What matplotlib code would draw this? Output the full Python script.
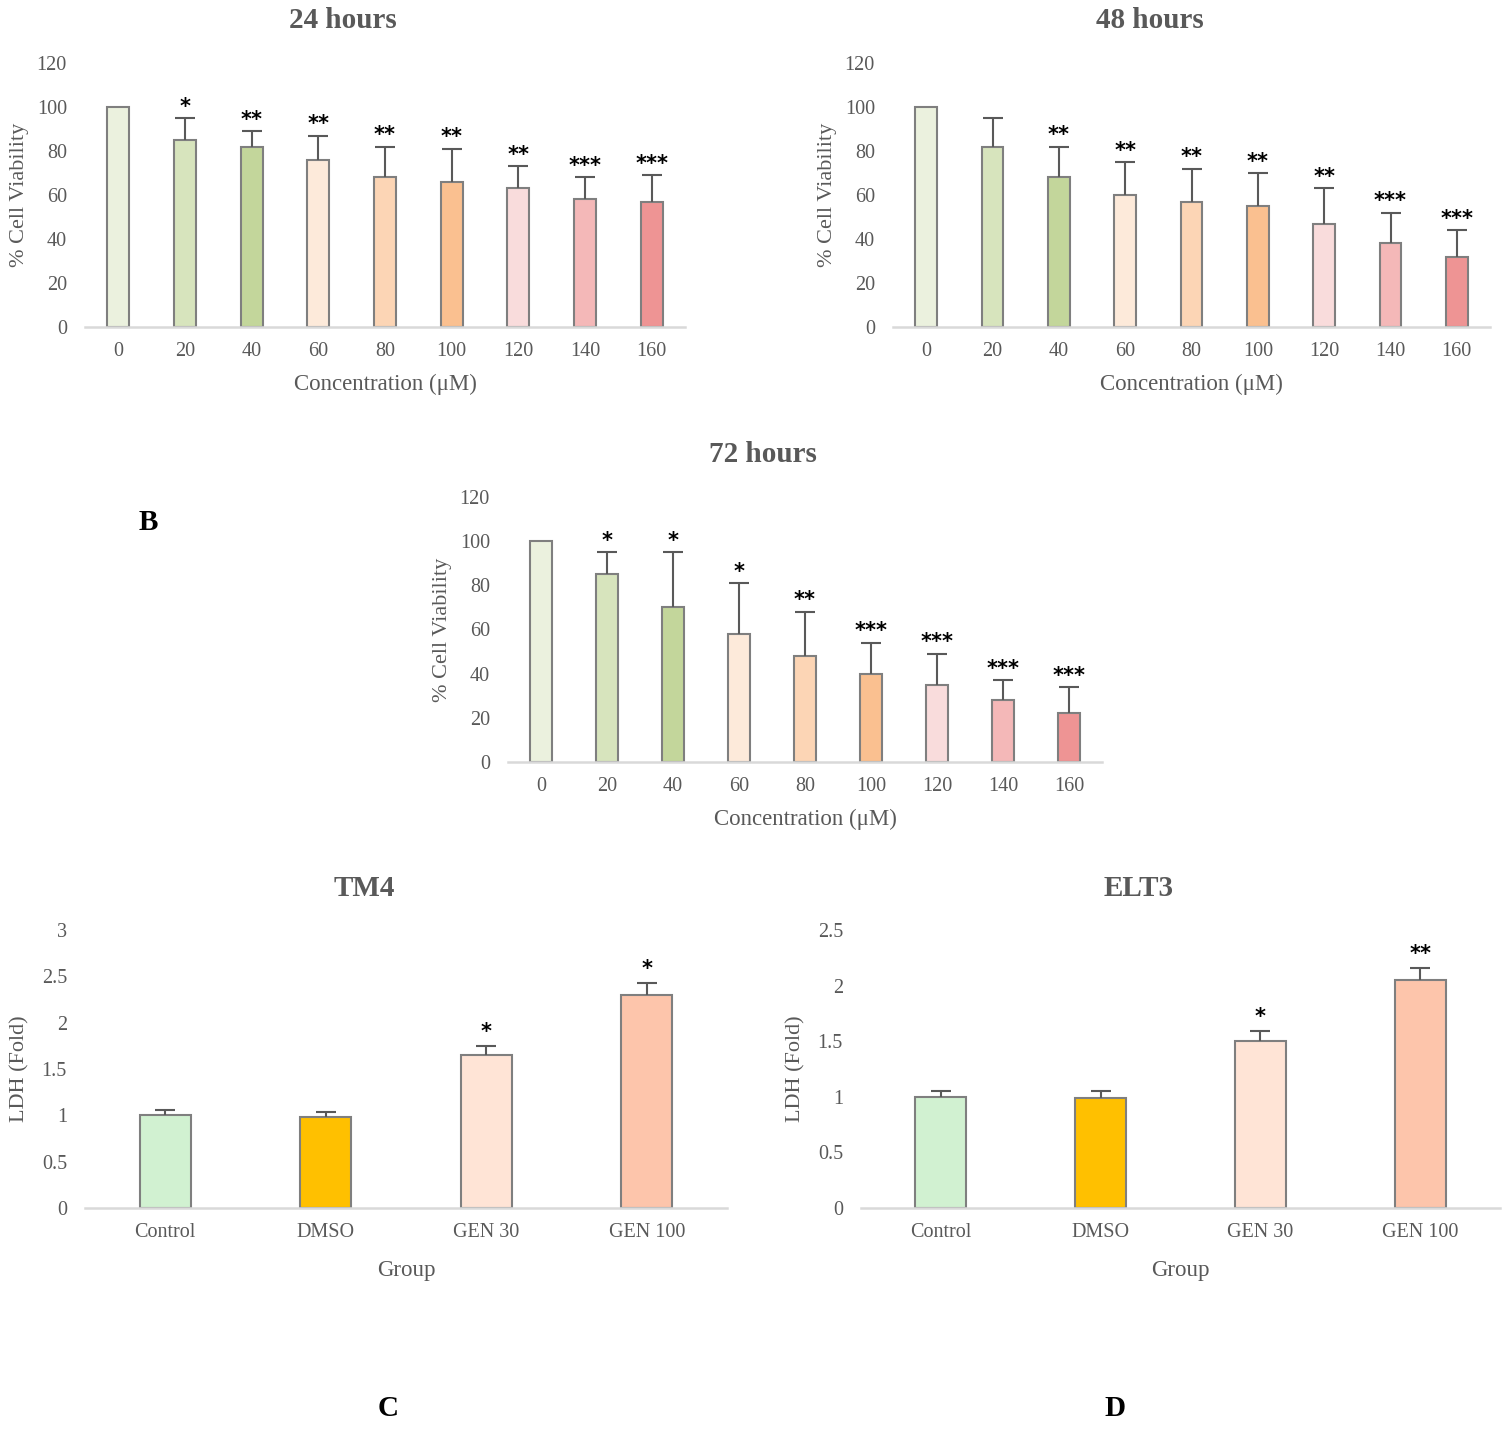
import numpy as np
import matplotlib
matplotlib.use("Agg")
import matplotlib.pyplot as plt

plt.rcParams['font.family'] = ['Liberation Serif', 'DejaVu Serif']

# Cell viability data (% of control)
conc_labels = ["0", "20", "40", "60", "80", "100", "120", "140", "160"]
via_24 = [100, 85, 82, 76, 68, 66, 63, 58, 57]
err_24 = [0, 10, 7, 11, 14, 15, 10, 10, 12]
sig_24 = ["", "*", "**", "**", "**", "**", "**", "***", "***"]

via_48 = [100, 82, 68, 60, 57, 55, 47, 38, 32]
err_48 = [0, 13, 14, 15, 15, 15, 16, 14, 12]
sig_48 = ["", "", "**", "**", "**", "**", "**", "***", "***"]

via_72 = [100, 85, 70, 58, 48, 40, 35, 28, 22]
err_72 = [0, 10, 25, 23, 20, 14, 14, 9, 12]
sig_72 = ["", "*", "*", "*", "**", "***", "***", "***", "***"]

via_colors = ["#EBF1DE", "#D7E4BD", "#C3D69B", "#FDEADA", "#FCD5B5",
              "#FAC090", "#F9DCDC", "#F4B8B8", "#EE9494"]

# LDH release data (fold of control)
groups = ["Control", "DMSO", "GEN 30", "GEN 100"]
ldh_tm4 = [1.0, 0.98, 1.65, 2.3]
ldh_tm4_err = [0.06, 0.06, 0.10, 0.13]
sig_tm4 = ["", "", "*", "*"]

ldh_elt3 = [1.0, 0.99, 1.5, 2.05]
ldh_elt3_err = [0.05, 0.06, 0.09, 0.11]
sig_elt3 = ["", "", "*", "**"]

ldh_colors = ["#D1F1D1", "#FFC000", "#FFE4D6", "#FDC5AB"]

W, H = 1509, 1430
fig = plt.figure(figsize=(W / 100, H / 100), dpi=100)

GRAY = "#595959"


def make_axes(box):
    # pixel box (left, right, top, bottom) -> figure fraction
    left, right, top, bottom = box
    return fig.add_axes([left / W, 1 - bottom / H, (right - left) / W, (bottom - top) / H])


def bar_panel(box, labels, vals, errs, sigs, colors, ymax, ystep, width,
              title, xlabel, ylabel, star_off, xlab_off):
    ax = make_axes(box)
    l, r, t, b = box
    w, h = r - l, b - t
    x = np.arange(len(vals))
    vals = np.array(vals, dtype=float)
    errs = np.array(errs, dtype=float)
    ax.bar(x, vals, width=width, color=colors, edgecolor="#7F7F7F",
           linewidth=1.5, zorder=2)
    m = errs > 0
    eb = ax.errorbar(x[m], vals[m], yerr=[np.zeros(m.sum()), errs[m]],
                     fmt="none", ecolor=GRAY, elinewidth=1.5, capsize=7,
                     capthick=1.5, zorder=3)
    eb[1][0].set_visible(False)
    for xi, v, e, s in zip(x, vals, errs, sigs):
        if s:
            ax.annotate(s, (xi, v + e), xytext=(0, star_off), textcoords="offset points",
                        ha="center", va="bottom", fontsize=15, fontweight="bold",
                        color="black", family="DejaVu Sans")
    ax.set_xlim(-0.5, len(vals) - 0.5)
    ax.set_ylim(0, ymax)
    ax.set_yticks(np.arange(0, ymax + ystep / 2, ystep))
    ax.yaxis.set_major_formatter(matplotlib.ticker.FuncFormatter(lambda v, p: f"{v:g}"))
    ax.set_xticks(x)
    ax.set_xticklabels(labels)
    for sp in ["left", "right", "top"]:
        ax.spines[sp].set_visible(False)
    ax.spines["bottom"].set_color("#D9D9D9")
    ax.spines["bottom"].set_linewidth(1.8)
    ax.tick_params(length=0, labelsize=14.5, colors=GRAY)
    ax.tick_params(axis="x", pad=11)
    ax.tick_params(axis="y", pad=13)
    ax.set_xlabel(xlabel, fontsize=16.5, color=GRAY)
    ax.set_ylabel(ylabel, fontsize=16, color=GRAY)
    ax.xaxis.set_label_coords(0.5, -xlab_off / h)
    ax.yaxis.set_label_coords(-56 / w, 0.5)
    ax.text(0.5 - 42 / w, 1 + 42 / h, title, transform=ax.transAxes, ha="center",
            va="center", fontsize=21, fontweight="bold", color=GRAY)
    return ax


via_w = 0.33
conc_title = "Concentration (\u03bcM)"
bar_panel((85, 685, 63, 327), conc_labels, via_24, err_24, sig_24, via_colors,
          120, 20, via_w, "24 hours", conc_title, "% Cell Viability", 1, 47)
bar_panel((893, 1490, 63, 327), conc_labels, via_48, err_48, sig_48, via_colors,
          120, 20, via_w, "48 hours", conc_title, "% Cell Viability", 1, 47)
bar_panel((508, 1102, 497, 762), conc_labels, via_72, err_72, sig_72, via_colors,
          120, 20, via_w, "72 hours", conc_title, "% Cell Viability", 1, 47)
bar_panel((85, 727, 930, 1208), groups, ldh_tm4, ldh_tm4_err, sig_tm4, ldh_colors,
          3, 0.5, 0.32, "TM4", "Group", "LDH (Fold)", 3, 52)
bar_panel((861, 1500, 930, 1208), groups, ldh_elt3, ldh_elt3_err, sig_elt3, ldh_colors,
          2.5, 0.5, 0.32, "ELT3", "Group", "LDH (Fold)", 3, 52)

fig.text(148 / W, 1 - 523 / H, "B", ha="center", va="center", fontsize=21, fontweight="bold")
fig.text(388 / W, 1 - 1408 / H, "C", ha="center", va="center", fontsize=21, fontweight="bold")
fig.text(1115 / W, 1 - 1408 / H, "D", ha="center", va="center", fontsize=21, fontweight="bold")

fig.savefig("out.png", dpi=100, facecolor="white")
